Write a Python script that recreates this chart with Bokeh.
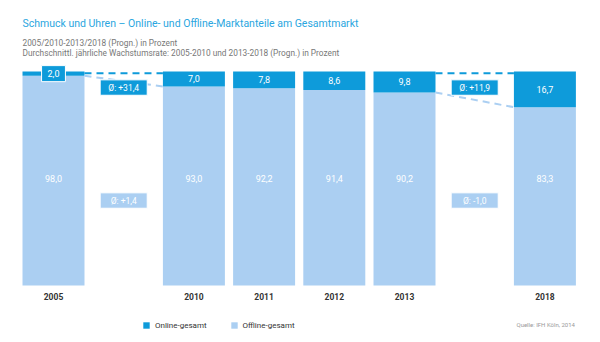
from bokeh.plotting import figure
from bokeh.models import Range1d, Label, Legend, LegendItem, ColumnDataSource
from bokeh.core.properties import value
from bokeh.embed import file_html
from bokeh.resources import INLINE

# ---- data ----
years = ["2005", "2010", "2011", "2012", "2013", "2018"]
slots = [0, 2, 3, 4, 5, 7]
online = [2.0, 7.0, 7.8, 8.6, 9.8, 16.7]
offline = [98.0, 93.0, 92.2, 91.4, 90.2, 83.3]
online_labels = ["2,0", "7,0", "7,8", "8,6", "9,8", "16,7"]
offline_labels = ["98,0", "93,0", "92,2", "91,4", "90,2", "83,3"]
cagr_from = [0, 4]   # index into years
cagr_to = [1, 5]
cagr_online = ["Ø: +31,4", "Ø: +11,9"]
cagr_offline = ["Ø: +1,4", "Ø: -1,0"]

DARK = "#0E9BDA"
LIGHT = "#ABCFF2"
FONT = "Roboto"
W, H = 600, 342
BW = 0.883

p = figure(width=W, height=H, output_backend="svg", toolbar_location=None,
           x_range=Range1d(-0.755, 7.792), y_range=Range1d(-26.64, 133.18),
           x_axis_type=None, y_axis_type=None, min_border=0)
p.grid.visible = False
p.outline_line_color = None
p.background_fill_color = "white"

totals = [a + b for a, b in zip(online, offline)]
src = ColumnDataSource(dict(x=slots, on=online, off=offline, tot=totals,
                            on_mid=[o + n / 2 for o, n in zip(offline, online)],
                            on_lab=online_labels, off_lab=offline_labels,
                            off_y=[50] * len(years), yr=years, yr_y=[-5.2] * len(years)))

r_off = p.vbar(x="x", bottom=0, top="off", width=BW, fill_color=LIGHT, line_color=None, source=src)
r_on = p.vbar(x="x", bottom="off", top="tot", width=BW, fill_color=DARK, line_color=None, source=src)

# growth dashed lines and boxes
for k in range(len(cagr_online)):
    a, b = cagr_from[k], cagr_to[k]
    xa, xb = slots[a] + BW / 2, slots[b] - BW / 2
    p.line([xa, xb], [totals[a] - 0.8, totals[b] - 0.8], line_color=DARK, line_width=2, line_dash="7 5")
    p.line([xa, xb], [offline[a], offline[b]], line_color=LIGHT, line_width=2, line_dash="7 5")
    xm = (slots[a] + slots[b]) / 2
    p.rect([xm], [92.5], width=0.67, height=7.2, fill_color=DARK, line_color="white", line_width=1)
    p.text([xm], [92.5], text=[cagr_online[k]], text_color="white", text_font=value(FONT),
           text_font_size="8.5px", text_align="center", text_baseline="middle")
    p.rect([xm], [39.7], width=0.67, height=7.2, fill_color=LIGHT, line_color="white", line_width=1)
    p.text([xm], [39.7], text=[cagr_offline[k]], text_color="white", text_font=value(FONT),
           text_font_size="8.5px", text_align="center", text_baseline="middle")

# small-value box for first online label
small = [i for i, v in enumerate(online) if v < 5]
p.rect([slots[i] for i in small], [offline[i] + online[i] / 2 for i in small], width=0.34, height=7.5,
       fill_color=DARK, line_color="white", line_width=1)

p.text(x="x", y="on_mid", text="on_lab", source=src, text_color="white", text_font=value(FONT),
       text_font_size="9px", text_align="center", text_baseline="middle")
p.text(x="x", y="off_y", text="off_lab", source=src, text_color="white", text_font=value(FONT),
       text_font_size="9px", text_align="center", text_baseline="middle")
p.text(x="x", y="yr_y", text="yr", source=src, text_color="#333333", text_font=value(FONT),
       text_font_size="8.5px", text_font_style="bold", text_align="center", text_baseline="middle")

# titles
p.add_layout(Label(x=22, y=H - 23, x_units="screen", y_units="screen",
                   text="Schmuck und Uhren – Online- und Offline-Marktanteile am Gesamtmarkt",
                   text_color="#2AA6E0", text_font=FONT, text_font_size="10.5px", text_baseline="middle"))
p.add_layout(Label(x=22, y=H - 42.5, x_units="screen", y_units="screen",
                   text="2005/2010-2013/2018 (Progn.) in Prozent",
                   text_color="#777777", text_font=FONT, text_font_size="8.3px", text_baseline="middle"))
p.add_layout(Label(x=22, y=H - 52.5, x_units="screen", y_units="screen",
                   text="Durchschnittl. jährliche Wachstumsrate: 2005-2010 und 2013-2018 (Progn.) in Prozent",
                   text_color="#777777", text_font=FONT, text_font_size="8.3px", text_baseline="middle"))
p.add_layout(Label(x=516, y=H - 324, x_units="screen", y_units="screen",
                   text="Quelle: IFH Köln, 2014",
                   text_color="#999999", text_font=FONT, text_font_size="6px", text_baseline="middle"))

legend = Legend(items=[LegendItem(label="Online-gesamt", renderers=[r_on]),
                       LegendItem(label="Offline-gesamt", renderers=[r_off])],
                location=(142, H - 330), orientation="horizontal",
                glyph_width=8, glyph_height=8, label_height=10, label_standoff=5, spacing=23,
                padding=0, margin=0, border_line_color=None, background_fill_alpha=0,
                label_text_font=FONT, label_text_font_size="8px", label_text_color="#333333")
p.add_layout(legend)

open("out.html", "w").write(file_html(p, INLINE))
